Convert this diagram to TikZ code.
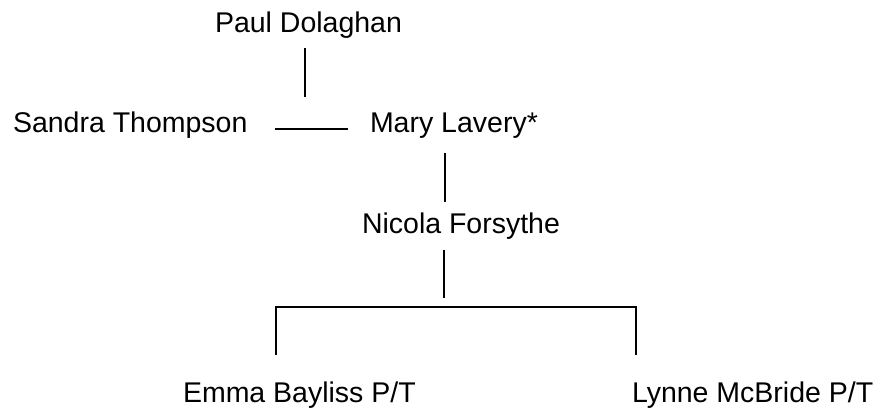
\documentclass[tikz,border=0pt]{standalone}
\usepackage{fontspec}
\setmainfont{Liberation Sans}
\tikzset{
  person/.style={anchor=base west, inner sep=0pt, outer sep=0pt, font=\fontsize{28.5}{34}\selectfont},
  link/.style={line width=1.3pt, black},
  thick link/.style={line width=2pt, black}
}
\begin{document}
\begin{tikzpicture}[x=1pt,y=-1pt]
\useasboundingbox (0,0) rectangle (881,410);
% people
\node[person] (paul)   at (215,32)  {Paul Dolaghan};
\node[person] (sandra) at (13,132)  {Sandra Thompson};
\node[person] (mary)   at (370,132) {Mary Lavery*};
\node[person] (nicola) at (362,233) {Nicola Forsythe};
\node[person] (emma)   at (183,402) {Emma Bayliss P/T};
\node[person] (lynne)  at (632,402) {Lynne McBride P/T};
% connector end points
\coordinate (p1) at (305,48);
\coordinate (p2) at (305,97);
\coordinate (m1) at (275,129);
\coordinate (m2) at (348,129);
\coordinate (n1) at (445,153);
\coordinate (n2) at (445,202);
\coordinate (c1) at (444,250);
\coordinate (c2) at (444,298);
\coordinate (bl) at (276,355);
\coordinate (br) at (636,355);
\coordinate (bm1) at (372,307);
\coordinate (bm2) at (492,307);
% connectors
\draw[link] (p1) -- (p2);
\draw[link] (m1) -- (m2);
\draw[link] (n1) -- (n2);
\draw[link] (c1) -- (c2);
\draw[link] (bl) |- (bm1) -- (bm2) -| (br);
\draw[thick link] (bm1) -- (bm2);
\end{tikzpicture}
\end{document}
